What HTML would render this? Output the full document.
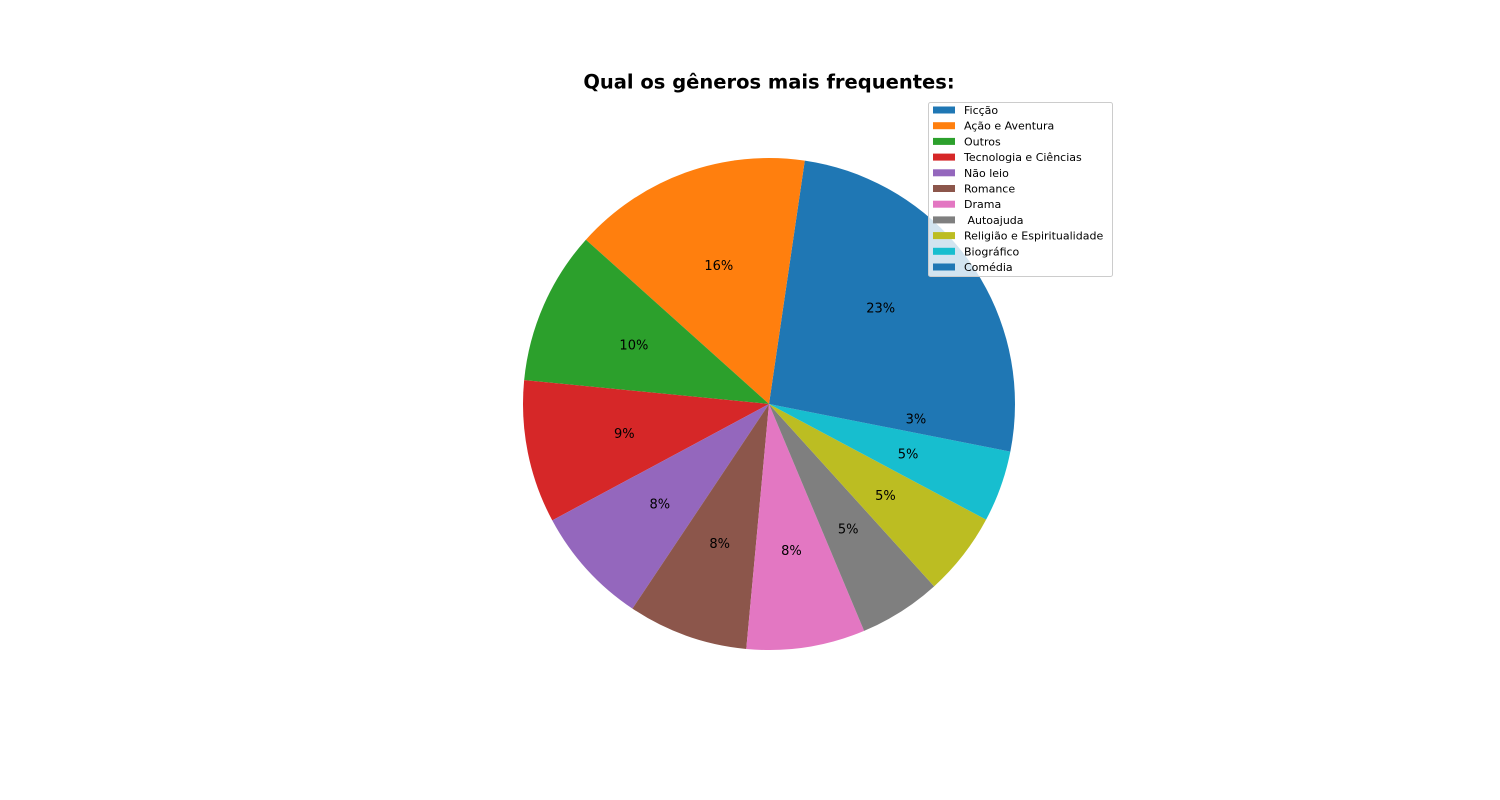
<!DOCTYPE html>
<html><head><meta charset="utf-8"><style>
body{margin:0;background:#fff;}
svg{display:block;font-family:"DejaVu Sans","Liberation Sans",sans-serif;}
</style></head><body>
<svg id="chart" width="1500" height="800">
<rect width="1500" height="800" fill="#fff"/>
<text x="769" y="88.5" text-anchor="middle" font-size="19.5" font-weight="bold">Qual os gêneros mais frequentes:</text>
<g id="slices"></g>
<g id="labels"></g>
<g id="legend"></g>
</svg>
<script>
const categories = ["Ficção","Ação e Aventura","Outros","Tecnologia e Ciências","Não leio","Romance","Drama"," Autoajuda","Religião e Espiritualidade","Biográfico","Comédia"];
const values = [22.7,15.7,10.1,9.4,7.8,7.9,7.8,5.4,5.5,4.7,3.1];
const colors = ["#1f77b4","#ff7f0e","#2ca02c","#d62728","#9467bd","#8c564b","#e377c2","#7f7f7f","#bcbd22","#17becf","#1f77b4"];
const NS="http://www.w3.org/2000/svg";
const cx=769, cy=404, r=246;
const total=values.reduce((a,b)=>a+b,0);
const sg=document.getElementById('slices'), lg=document.getElementById('labels'), leg=document.getElementById('legend');
function pt(a,rr){return [cx+rr*Math.cos(a*Math.PI/180), cy-rr*Math.sin(a*Math.PI/180)];}
let ang=0;
values.forEach((v,i)=>{
  const span=v/total*360, a0=ang, a1=ang+span;
  const p0=pt(a0,r), p1=pt(a1,r);
  const p=document.createElementNS(NS,'path');
  p.setAttribute('d',`M${cx},${cy} L${p0[0]},${p0[1]} A${r},${r} 0 ${span>180?1:0} 0 ${p1[0]},${p1[1]} Z`);
  p.setAttribute('fill',colors[i]);
  
  
  sg.appendChild(p);
  const m=pt((a0+a1)/2,r*0.6);
  const t=document.createElementNS(NS,'text');
  t.setAttribute('x',m[0]);t.setAttribute('y',m[1]+5);
  t.setAttribute('text-anchor','middle');t.setAttribute('font-size','13');
  t.textContent=Math.round(v/total*100)+'%';
  
  
  lg.appendChild(t);
  ang=a1;
});
const box=document.createElementNS(NS,'rect');
box.setAttribute('x',928.5);box.setAttribute('y',102.5);box.setAttribute('width',184);box.setAttribute('height',174);
box.setAttribute('rx',2);box.setAttribute('fill','#fff');box.setAttribute('fill-opacity','0.8');box.setAttribute('stroke','#ccc');


leg.appendChild(box);
categories.forEach((c,i)=>{
  const y=110+i*15.7;
  const s=document.createElementNS(NS,'rect');
  s.setAttribute('x',933);s.setAttribute('y',y-3.5);s.setAttribute('width',22);s.setAttribute('height',7);s.setAttribute('fill',colors[i]);
  
  
  leg.appendChild(s);
  const t=document.createElementNS(NS,'text');
  t.setAttribute('x',964);t.setAttribute('y',y+4);t.setAttribute('font-size','11');
  t.setAttribute('xml:space','preserve');t.style.whiteSpace='pre';
  t.textContent=c;
  
  
  leg.appendChild(t);
});
</script>
</body></html>
